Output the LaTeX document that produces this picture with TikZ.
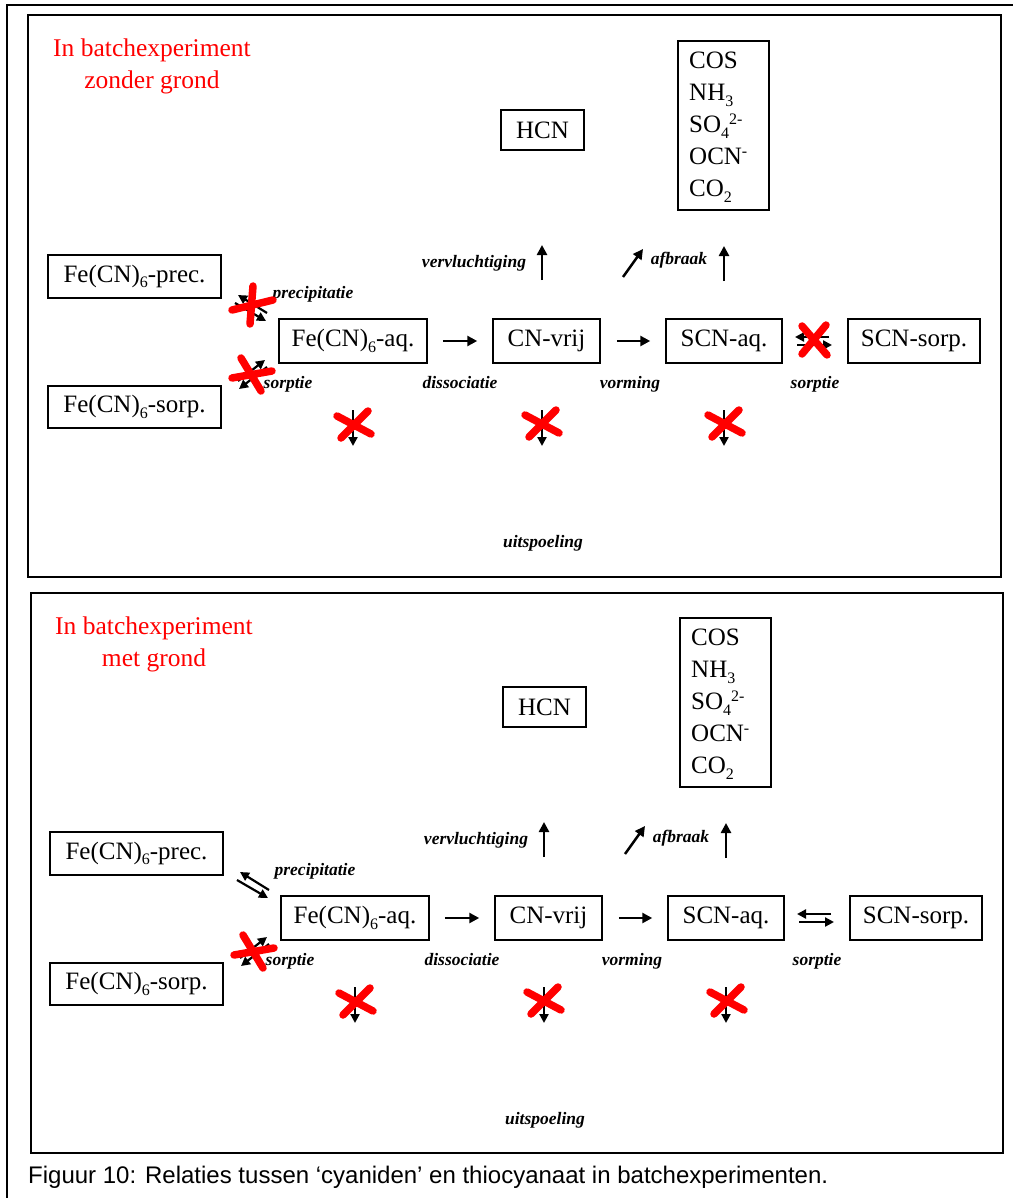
\documentclass[tikz,border=0pt]{standalone}
\usepackage{fontspec}
\setmainfont{Liberation Serif}
\newfontfamily\capfont{Liberation Sans}
\usetikzlibrary{arrows.meta}
\tikzset{
  box/.style={draw, line width=1.5pt, inner sep=0pt, font=\fontsize{25}{30}\selectfont},
  lbl/.style={font=\fontsize{17.5}{20}\selectfont\bfseries\itshape, inner sep=0pt, anchor=base},
  arr/.style={line width=2.5pt, -{Stealth[length=10pt,width=10pt,inset=0pt]}},
  darr/.style={line width=2.2pt, -{Stealth[length=9pt,width=9pt,inset=0pt]}},
  nix/.style={red, line width=7.5pt, line cap=round},
  ttl/.style={red, font=\fontsize{25.5}{30}\selectfont, inner sep=0pt, anchor=base},
  chem/.style={font=\fontsize{25}{32}\selectfont, inner sep=0pt, anchor=west, align=left},
  frame/.style={line width=1.5pt}
}
\newcommand\sbs[1]{\raisebox{-5.5pt}{\fontsize{16}{16}\selectfont #1}}
\newcommand\sps[1]{\raisebox{8pt}{\fontsize{16}{16}\selectfont #1}}
\newcommand\mypanel[4]{%
  \node[ttl] (#1t1) at (152,57) {In batchexperiment};
  \node[ttl] (#1t2) at (152,89) {#2};
  \node[box, minimum width=83pt, minimum height=40pt] (#1hcn) at (542.5,130) {HCN};
  \node[box, minimum width=91pt, minimum height=169pt] (#1prod) at (723.5,125.5) {};
  \node[chem] (#1list) at (689,127) {COS\\NH\sbs{3}\\SO\sbs{4}\sps{2-}\\OCN\sps{-}\\CO\sbs{2}};
  % boxes
  \node[box, minimum width=173pt, minimum height=43pt] (#1prec) at (134.5,276.5) {Fe(CN)\sbs{6}-prec.};
  \node[box, minimum width=173pt, minimum height=42pt] (#1sorp) at (134.5,407) {Fe(CN)\sbs{6}-sorp.};
  \node[box, minimum width=148pt, minimum height=44pt] (#1aq) at (353,341) {Fe(CN)\sbs{6}-aq.};
  \node[box, minimum width=107pt, minimum height=44pt] (#1cn) at (546.5,341) {CN-vrij};
  \node[box, minimum width=116pt, minimum height=44pt] (#1scn) at (724,341) {SCN-aq.};
  \node[box, minimum width=132pt, minimum height=44pt] (#1scns) at (914,341) {SCN-sorp.};
  % main arrows
  \draw[arr, shorten <=15pt, shorten >=15pt] (#1aq) -- (#1cn);
  \draw[arr, shorten <=16pt, shorten >=15pt] (#1cn) -- (#1scn);
  % labels
  \node[lbl] (#1vv) at (474,267) {vervluchtiging};
  \node[lbl] (#1af) at (679,265) {afbraak};
  \node[lbl] (#1pr) at (313,298) {precipitatie};
  \node[lbl] (#1so) at (288,388) {sorptie};
  \node[lbl] (#1di) at (460,388) {dissociatie};
  \node[lbl] (#1vo) at (630,388) {vorming};
  \node[lbl] (#1sr) at (815,388) {sorptie};
  \node[lbl] (#1ui) at (543,547) {uitspoeling};
  % up arrows
  \coordinate (#1va) at (542,280); \coordinate (#1vb) at (542,245);
  \draw[arr] (#1va) -- (#1vb);
  \coordinate (#1da) at (623,277); \coordinate (#1db) at (643,249);
  \draw[arr] (#1da) -- (#1db);
  \coordinate (#1ua) at (724,281); \coordinate (#1ub) at (724,246);
  \draw[arr] (#1ua) -- (#1ub);
  % precipitation double arrow
  \coordinate (#1p1) at (267,313); \coordinate (#1p2) at (238,295);
  \coordinate (#1p3) at (235,303); \coordinate (#1p4) at (266,321);
  \draw[darr] (#1p1) -- (#1p2);
  \draw[darr] (#1p3) -- (#1p4);
  % sorption double arrow (left)
  \coordinate (#1s1) at (238,381); \coordinate (#1s2) at (265,360);
  \coordinate (#1s3) at (267,367); \coordinate (#1s4) at (239,389);
  \draw[darr] (#1s1) -- (#1s2);
  \draw[darr] (#1s3) -- (#1s4);
  % sorption double arrow (right)
  \coordinate (#1r1) at (829,337); \coordinate (#1r2) at (795,337);
  \coordinate (#1r3) at (797,345); \coordinate (#1r4) at (832,345);
  \draw[darr] (#1r1) -- (#1r2);
  \draw[darr] (#1r3) -- (#1r4);
  % leaching arrows
  \coordinate (#1a1) at (353,410); \coordinate (#1a2) at (353,446);
  \coordinate (#1b1) at (542,410); \coordinate (#1b2) at (542,446);
  \coordinate (#1c1) at (724,410); \coordinate (#1c2) at (724,446);
  \draw[darr] (#1a1) -- (#1a2);
  \draw[darr] (#1b1) -- (#1b2);
  \draw[darr] (#1c1) -- (#1c2);
  % red crosses
  \foreach \cx/\cy in {354/425, 542/424, 725/424}{
    \draw[nix, shift={(\cx,\cy)}] (-17,-9) -- (17,9) (14,-14) -- (-13,13);
  }
  \draw[nix, shift={(251,375)}] (-19,3) -- (21,-4) (-10,-17) -- (10,16);
  \ifnum#3=1
    \draw[nix, shift={(252,305)}] (-20,5) -- (21,-5) (1,-19) -- (-2,19);
  \fi
  \ifnum#4=1
    \draw[nix, shift={(814,340)}] (-12,-14) -- (13,15) (12,-15) -- (-12,14);
  \fi
}
\begin{document}
\begin{tikzpicture}[x=1pt,y=-1pt]
  \useasboundingbox (0,0) rectangle (1013,1198);
  \fill[white] (0,0) rectangle (1013,1198);
  \draw[frame] (7,1198) -- (7,5) -- (1013,5);
  \draw[frame] (28,15) rectangle (1001,577);
  \draw[frame] (31,593) rectangle (1003,1153);
  \begin{scope}
    \mypanel{a}{zonder grond}{1}{1}
  \end{scope}
  \begin{scope}[shift={(2,577)}]
    \mypanel{b}{met grond}{0}{0}
  \end{scope}
  \node[font=\capfont\fontsize{24}{28}\selectfont, anchor=base west, inner sep=0pt] (cap) at (28,1183)
    {Figuur 10: Relaties tussen ‘cyaniden’ en thiocyanaat in batchexperimenten.};
\end{tikzpicture}
\end{document}
